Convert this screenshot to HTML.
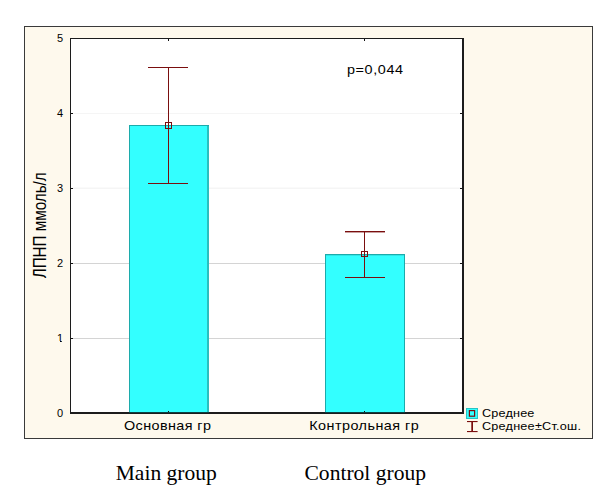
<!DOCTYPE html>
<html lang="ru">
<head>
<meta charset="utf-8">
<title>ЛПНП ммоль/л</title>
<style>
html,body{margin:0;padding:0;background:#fff;}
body{width:606px;height:498px;overflow:hidden;position:relative;font-family:"Liberation Sans",sans-serif;}
svg{position:absolute;left:0;top:0;display:block;}
.sans{font-family:"Liberation Sans",sans-serif;fill:#000;}
.serif{font-family:"Liberation Serif",serif;fill:#000;}
</style>
</head>
<body>
<svg width="606" height="498" viewBox="0 0 606 498">
  <!-- outer frame -->
  <g shape-rendering="crispEdges">
    <rect x="24" y="26" width="569" height="413" fill="#3a3a3a"/>
    <rect x="25" y="27" width="567" height="411" fill="#fef9ed"/>
    <!-- plot area -->
    <rect x="70" y="38" width="394" height="376" fill="#1c1c1c"/>
    <rect x="71" y="39" width="391" height="373" fill="#fff"/>
    <!-- grid -->
    <rect x="71" y="113" width="391" height="1" fill="#f5f5f5"/>
    <rect x="71" y="187" width="391" height="1" fill="#fafafa"/>
    <rect x="71" y="188" width="391" height="1" fill="#f5f5f5"/>
    <rect x="71" y="263" width="391" height="1" fill="#d4d4d4"/>
    <rect x="71" y="338" width="391" height="1" fill="#d4d4d4"/>
    <!-- y ticks -->
    <rect x="71" y="113" width="2" height="1" fill="#111"/>
    <rect x="71" y="188" width="2" height="1" fill="#111"/>
    <rect x="71" y="263" width="2" height="1" fill="#111"/>
    <rect x="71" y="338" width="2" height="1" fill="#111"/>
    <rect x="460" y="113" width="2" height="1" fill="#111"/>
    <rect x="460" y="188" width="2" height="1" fill="#111"/>
    <rect x="460" y="263" width="2" height="1" fill="#111"/>
    <rect x="460" y="338" width="2" height="1" fill="#111"/>
    <!-- bars -->
    <rect x="129" y="125" width="80" height="287" fill="#1cabab"/>
    <rect x="130" y="126" width="77" height="286" fill="#33ffff"/>
    <rect x="207" y="126" width="2" height="286" fill="#2bbebe"/>
    <rect x="129" y="412" width="80" height="1" fill="#0c3f3f"/>
    <rect x="325" y="254" width="80" height="158" fill="#1cabab"/>
    <rect x="326" y="255" width="78" height="157" fill="#33ffff"/>
    <rect x="326" y="255" width="78" height="1" fill="#2fe6e6"/>
    <rect x="325" y="412" width="80" height="1" fill="#0c3f3f"/>
    <!-- x ticks -->
    <rect x="168" y="411" width="1" height="1" fill="#111"/>
    <rect x="364" y="411" width="1" height="1" fill="#111"/>
    <rect x="168" y="39" width="1" height="2" fill="#111"/>
    <rect x="364" y="39" width="1" height="2" fill="#111"/>
    <!-- error bars -->
    <g fill="#7a0e0e">
      <rect x="168" y="67" width="1" height="117"/>
      <rect x="148" y="67" width="40" height="1"/>
      <rect x="148" y="183" width="40" height="1"/>
      <rect x="364" y="231" width="1" height="47"/>
      <rect x="345" y="231" width="40" height="1"/>
      <rect x="345" y="232" width="40" height="1" fill-opacity="0.400"/>
      <rect x="345" y="277" width="40" height="1"/>
    </g>
    <g fill="none" stroke="#7a0e0e" stroke-width="1">
      <rect x="165.500" y="122.500" width="6" height="6"/>
      <rect x="361.500" y="251.500" width="6" height="5"/>
    </g>
    <!-- legend icons -->
    <rect x="466" y="408" width="12" height="11" fill="#27c4c4"/>
    <rect x="467" y="409" width="10" height="9" fill="#33ffff"/>
  </g>
  <g fill="#7a0e0e">
    <rect x="469.400" y="410.600" width="5.200" height="5.600" fill="none" stroke="#7a0e0e" stroke-width="1.200"/>
    <rect x="471.300" y="421" width="1.700" height="11"/>
    <rect x="467" y="421" width="10.600" height="1.100"/>
    <rect x="467" y="431" width="10.600" height="1.100"/>
  </g>
  <!-- y tick labels -->
  <g class="sans" font-size="11" text-anchor="end">
    <text x="63" y="42">5</text>
    <text x="63" y="117">4</text>
    <text x="63" y="192">3</text>
    <text x="63" y="267">2</text>
    <text x="63" y="342">1</text>
    <text x="63" y="417">0</text>
  </g>
  <!-- trim foot of the digit one to match Arial shape -->
  <g fill="#fef9ed" shape-rendering="crispEdges">
    <rect x="56" y="341" width="3.600" height="1.600"/>
    <rect x="61.600" y="341" width="3" height="1.600"/>
  </g>
  <!-- x labels -->
  <g class="sans" font-size="12">
    <text transform="translate(124,429.800) scale(1.2,1)" textLength="72.50" lengthAdjust="spacing">Основная гр</text>
    <text transform="translate(309.200,429.800) scale(1.2,1)" textLength="91.30" lengthAdjust="spacing">Контрольная гр</text>
    <text transform="translate(347,73.800) scale(1.2,1)" textLength="46.67" lengthAdjust="spacing">p=0,044</text>
  </g>
  <!-- legend -->
  <g class="sans" font-size="11">
    <text transform="translate(482,417) scale(1.15,1)" textLength="45.57" lengthAdjust="spacing">Среднее</text>
    <text transform="translate(482,429.700) scale(1.15,1)" textLength="86.00" lengthAdjust="spacing">Среднее±Ст.ош.</text>
  </g>
  <!-- y axis label -->
  <text class="sans" font-size="15" transform="translate(45.800,278.300) rotate(-90) scale(1,1.170)" textLength="106" lengthAdjust="spacingAndGlyphs">ЛПНП ммоль/л</text>
  <!-- captions -->
  <g class="serif" font-size="21.550">
    <text x="115.700" y="480">Main group</text>
    <text x="304.500" y="480">Control group</text>
  </g>
</svg>
</body>
</html>
